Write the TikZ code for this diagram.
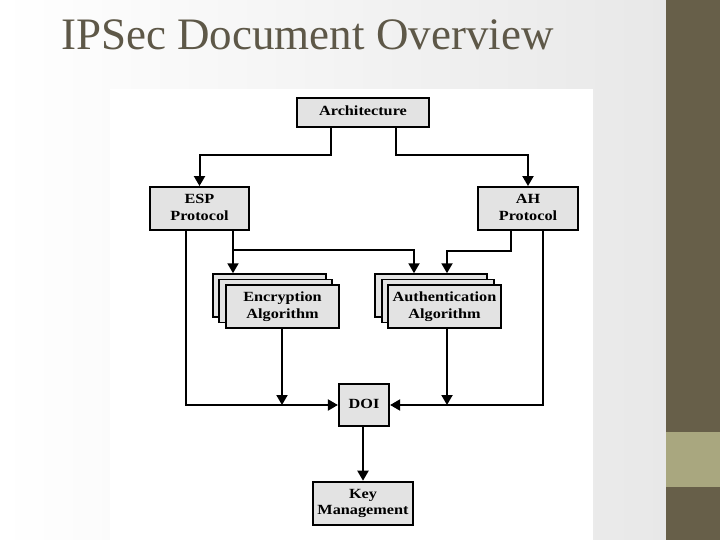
\documentclass[tikz,border=0pt]{standalone}
\usepackage{fontspec}
\setmainfont{Liberation Serif}
\usetikzlibrary{arrows.meta}
\definecolor{olivedark}{HTML}{675F49}
\definecolor{oliveband}{HTML}{A9A77F}
\definecolor{titlecol}{HTML}{5E5848}
\definecolor{boxfill}{HTML}{E3E3E3}
\newcommand{\bxtext}[1]{\scalebox{1.16}[1]{\fontsize{14}{16.7}\selectfont\bfseries
  \begin{tabular}{@{}c@{}}#1\end{tabular}}}
\begin{document}
\begin{tikzpicture}[x=1pt,y=-1pt,
  blk/.style={draw=black,line width=1.9pt,fill=boxfill,inner sep=0pt,align=center},
  conn/.style={line width=2pt,draw=black},
  arr/.style={conn,-{Triangle[width=11pt,length=10pt]}}]
\useasboundingbox (0,0) rectangle (720,540);
% background
\shade[left color=white,right color=black!9] (0,0) rectangle (666,540);
\fill[white] (110,89) rectangle (593,540);
\fill[olivedark] (666,0) rectangle (720,540);
\fill[oliveband] (666,432) rectangle (720,487);
% title
\node[anchor=base west,inner sep=0pt,text=titlecol,font=\fontsize{45}{50}\selectfont] (title) at (61,49.5) {IPSec Document Overview};
% boxes
\node[blk,minimum width=132pt,minimum height=28.5pt] (arch) at (363,112.5) {\bxtext{Architecture}};
\node[blk,minimum width=99pt,minimum height=43pt] (esp) at (199.5,208.5) {\bxtext{ESP\\Protocol}};
\node[blk,minimum width=99.5pt,minimum height=43pt] (ah) at (528,208.5) {\bxtext{AH\\Protocol}};
\node[blk,minimum width=113pt,minimum height=43pt] (encB2) at (269.2,295.7) {};
\node[blk,minimum width=113pt,minimum height=43pt] (encB1) at (275.8,301) {};
\node[blk,minimum width=113pt,minimum height=43pt] (encF) at (282.5,306.4) {\bxtext{Encryption\\Algorithm}};
\node[blk,minimum width=112.4pt,minimum height=43pt] (authB2) at (431.2,295.7) {};
\node[blk,minimum width=112.4pt,minimum height=43pt] (authB1) at (437.8,301) {};
\node[blk,minimum width=112.4pt,minimum height=43pt] (authF) at (444.5,306.4) {\bxtext{Authentication\\Algorithm}};
\node[blk,minimum width=50.3pt,minimum height=42.7pt] (doi) at (364,405) {\bxtext{DOI}};
\node[blk,minimum width=99.4pt,minimum height=43.3pt] (km) at (363,503.3) {\bxtext{Key\\Management}};
% connectors
\draw[arr] ([xshift=-32pt]arch.south) -- ++(0,27.25) -| (esp.north);
\draw[arr] ([xshift=33pt]arch.south) -- ++(0,27.25) -| (ah.north);
\draw[arr] ([xshift=-13.5pt]esp.south) |- (doi.west);
\draw[arr] ([xshift=15pt]ah.south) |- (doi.east);
\coordinate (encin) at ([xshift=33.5pt]esp.south);
\draw[arr] (encin) -- (encin |- encB2.north);
\coordinate (authinL) at (414,250);
\draw[arr] (encin |- authinL) -| (authinL |- authB2.north);
\coordinate (authinR) at ([xshift=-17pt]ah.south);
\draw[arr] (authinR) -- ++(0,20) -| ([xshift=2.5pt]authF.south |- authB2.north);
\draw[arr] ([xshift=-0.5pt]encF.south) -- ([xshift=-0.5pt]encF.south |- doi.west);
\draw[arr] ([xshift=2.5pt]authF.south) -- ([xshift=2.5pt]authF.south |- doi.east);
\draw[arr] ([xshift=-1pt]doi.south) -- (km.north);
\end{tikzpicture}
\end{document}
